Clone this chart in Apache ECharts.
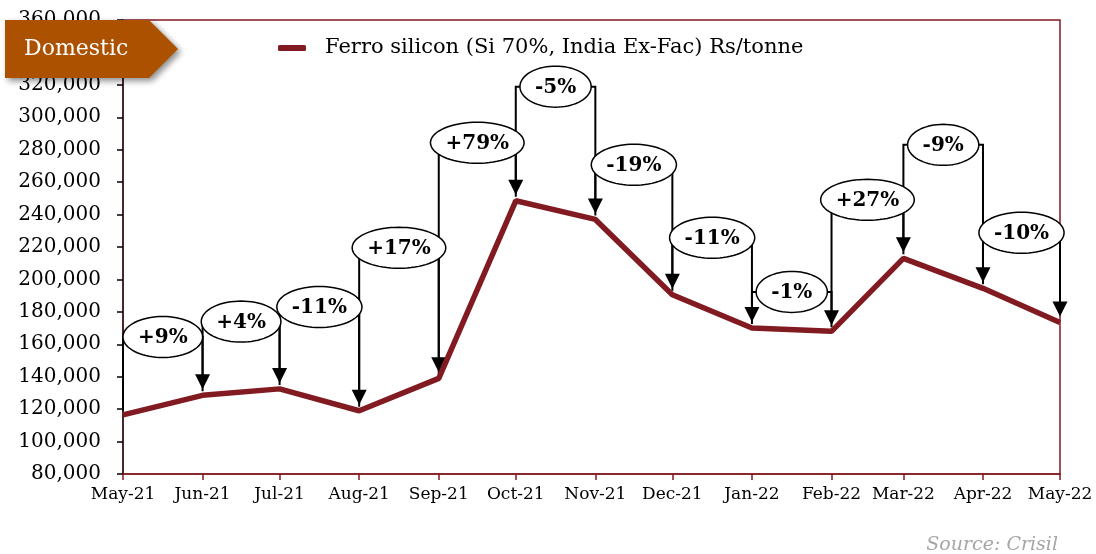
<!DOCTYPE html>
<html>
<head>
<meta charset="utf-8">
<script src="https://cdn.jsdelivr.net/npm/echarts@6/dist/echarts.min.js"></script>
<style>
  html, body { margin: 0; padding: 0; background: #fff; }
  #chart { width: 1096px; height: 554px; }
</style>
</head>
<body>
<div id="chart"></div>
<script>
// monthly price points (first day of each month)
const months = ['2021-05-01', '2021-06-01', '2021-07-01', '2021-08-01', '2021-09-01', '2021-10-01', '2021-11-01',
    '2021-12-01', '2022-01-01', '2022-02-01', '2022-03-01', '2022-04-01', '2022-05-01']
const monthLabels = ['May-21', 'Jun-21', 'Jul-21', 'Aug-21', 'Sep-21', 'Oct-21', 'Nov-21',
    'Dec-21', 'Jan-22', 'Feb-22', 'Mar-22', 'Apr-22', 'May-22']
const prices = [116500, 128500, 132500, 119000, 139000, 248500, 237000, 190500, 170000, 168000, 213000, 194500, 173500]

// month-on-month change callouts and the height (Rs/tonne) each bracket is drawn at
const changeLabels = ['+9%', '+4%', '-11%', '+17%', '+79%', '-5%', '-19%', '-11%', '-1%', '+27%', '-9%', '-10%']
const bracketLevels = [164500, 174000, 183000, 219500, 284300, 318900, 270700, 225700, 192300, 249100, 283000, 228800]

const yTicks = { min: 80000, max: 360000, step: 20000 }
const seriesName = 'Ferro silicon (Si 70%, India Ex-Fac) Rs/tonne'

const LINE_RED = '#821a22'
const SERIF = '"DejaVu Serif", "Liberation Serif", serif'

const toTime = s => {
    const [y, m, d] = s.split('-').map(Number)
    return new Date(y, m - 1, d).getTime()
}
const times = months.map(toTime)
const startDate = new Date(times[0])

const lineData = times.map((t, i) => [t, prices[i]])
const bracketData = changeLabels.map((txt, i) => [times[i], prices[i], times[i + 1], prices[i + 1], bracketLevels[i]])

const measureCtx = document.createElement('canvas').getContext('2d')
const pctFont = 'bold 20px ' + SERIF
const textWidth = (txt, font) => {
    measureCtx.font = font
    return measureCtx.measureText(txt).width
}

const ARROW_GAP = 6
const ARROW_H = 15
const ARROW_W = 15

// vertical up, across, and down with arrowhead onto the next month
const renderBracket = (params, api) => {
    const a = api.coord([api.value(0), api.value(1)])
    const b = api.coord([api.value(2), api.value(3)])
    const h = api.coord([api.value(0), api.value(4)])[1]
    const tipY = b[1] - ARROW_GAP
    return {
        type: 'group',
        children: [{
            type: 'polyline',
            shape: { points: [[a[0], a[1] - 4], [a[0], h], [b[0], h], [b[0], tipY - ARROW_H + 2]] },
            style: { stroke: '#000', lineWidth: 2, fill: null }
        }, {
            type: 'polygon',
            shape: { points: [[b[0] - ARROW_W / 2, tipY - ARROW_H], [b[0] + ARROW_W / 2, tipY - ARROW_H], [b[0], tipY]] },
            style: { fill: '#000' }
        }]
    }
}

// white ellipse with the % change, centred on the bracket's horizontal
const renderBubble = (params, api) => {
    const a = api.coord([api.value(0), api.value(1)])
    const b = api.coord([api.value(2), api.value(3)])
    const cy = api.coord([api.value(0), api.value(4)])[1]
    const cx = (a[0] + b[0]) / 2
    const txt = changeLabels[params.dataIndex]
    const rx = textWidth(txt, pctFont) / 2 + 15
    const ry = 20.5
    const pts = []
    for (let k = 0; k < 72; k++) {
        const ang = k / 72 * Math.PI * 2
        pts.push([cx + rx * Math.cos(ang), cy + ry * Math.sin(ang)])
    }
    return {
        type: 'group',
        children: [{
            type: 'polygon',
            shape: { points: pts },
            style: { fill: '#fff', stroke: '#000', lineWidth: 1.5 }
        }, {
            type: 'text',
            x: cx,
            y: cy + 1,
            style: {
                text: txt, font: pctFont, fill: '#000',
                align: 'center', verticalAlign: 'middle',
                textAlign: 'center', textVerticalAlign: 'middle'
            }
        }]
    }
}

const myChart = echarts.init(document.getElementById('chart'), null, { renderer: 'canvas' })

const options = {
    animation: false,
    backgroundColor: '#fff',
    textStyle: { fontFamily: SERIF },
    grid: {
        left: 123,
        right: 36,
        top: 20,
        bottom: 80,
        show: true,
        borderColor: LINE_RED,
        borderWidth: 1.5,
        containLabel: false
    },
    legend: {
        data: [seriesName],
        left: 278,
        top: 37,
        padding: 0,
        icon: 'roundRect',
        itemWidth: 28,
        itemHeight: 6,
        textStyle: { fontFamily: SERIF, fontSize: 21, color: '#000', padding: [0, 0, 0, 14], lineHeight: 22 }
    },
    xAxis: {
        type: 'time',
        min: times[0],
        max: times[times.length - 1],
        splitNumber: 12,
        minInterval: 28 * 86400000,
        maxInterval: 31 * 86400000,
        splitLine: { show: false },
        axisLine: { lineStyle: { color: LINE_RED, width: 1.5 } },
        axisTick: { show: true, length: 6, lineStyle: { color: LINE_RED, width: 1.5 } },
        axisLabel: {
            showMinLabel: true,
            showMaxLabel: true,
            margin: 12,
            fontFamily: SERIF,
            fontSize: 17,
            color: '#000',
            formatter: value => {
                const d = new Date(value)
                const idx = (d.getFullYear() - startDate.getFullYear()) * 12 + d.getMonth() - startDate.getMonth()
                return monthLabels[idx] || ''
            }
        }
    },
    yAxis: {
        type: 'value',
        min: yTicks.min,
        max: yTicks.max,
        interval: yTicks.step,
        splitLine: { show: false },
        axisLine: { show: true, lineStyle: { color: '#2a1a1a', width: 1.5 } },
        axisTick: { show: true, length: 6, lineStyle: { color: '#000', width: 1.5 } },
        axisLabel: {
            margin: 22,
            fontFamily: SERIF,
            fontSize: 20,
            color: '#000',
            formatter: v => v.toLocaleString('en-US')
        }
    },
    series: [{
        type: 'custom',
        name: 'brackets',
        coordinateSystem: 'cartesian2d',
        renderItem: renderBracket,
        data: bracketData,
        encode: { x: [0, 2], y: [1, 3, 4] },
        clip: false,
        silent: true,
        z: 3
    }, {
        type: 'line',
        name: seriesName,
        data: lineData,
        symbol: 'none',
        color: LINE_RED,
        lineStyle: { width: 5.5, color: LINE_RED },
        z: 4
    }, {
        type: 'custom',
        name: 'bubbles',
        coordinateSystem: 'cartesian2d',
        renderItem: renderBubble,
        data: bracketData,
        encode: { x: [0, 2], y: [1, 3, 4] },
        clip: false,
        silent: true,
        z: 5
    }],
    graphic: [{
        type: 'polygon',
        z: 100,
        shape: { points: [[5, 20], [149, 20], [178, 49], [149, 78], [5, 78]] },
        style: { fill: '#ac5100', shadowBlur: 6, shadowOffsetX: 3, shadowOffsetY: 3, shadowColor: 'rgba(0,0,0,0.45)' }
    }, {
        type: 'text',
        z: 101,
        x: 24,
        y: 49,
        style: { text: 'Domestic', font: '22px ' + SERIF, fill: '#fff', verticalAlign: 'middle', textVerticalAlign: 'middle' }
    }, {
        type: 'text',
        z: 101,
        x: 1058,
        y: 545,
        style: {
            text: 'Source: Crisil', font: 'italic 19px ' + SERIF, fill: '#a6a6a6',
            align: 'right', verticalAlign: 'middle', textAlign: 'right', textVerticalAlign: 'middle'
        }
    }]
}

myChart.setOption(options)
</script>
</body>
</html>
